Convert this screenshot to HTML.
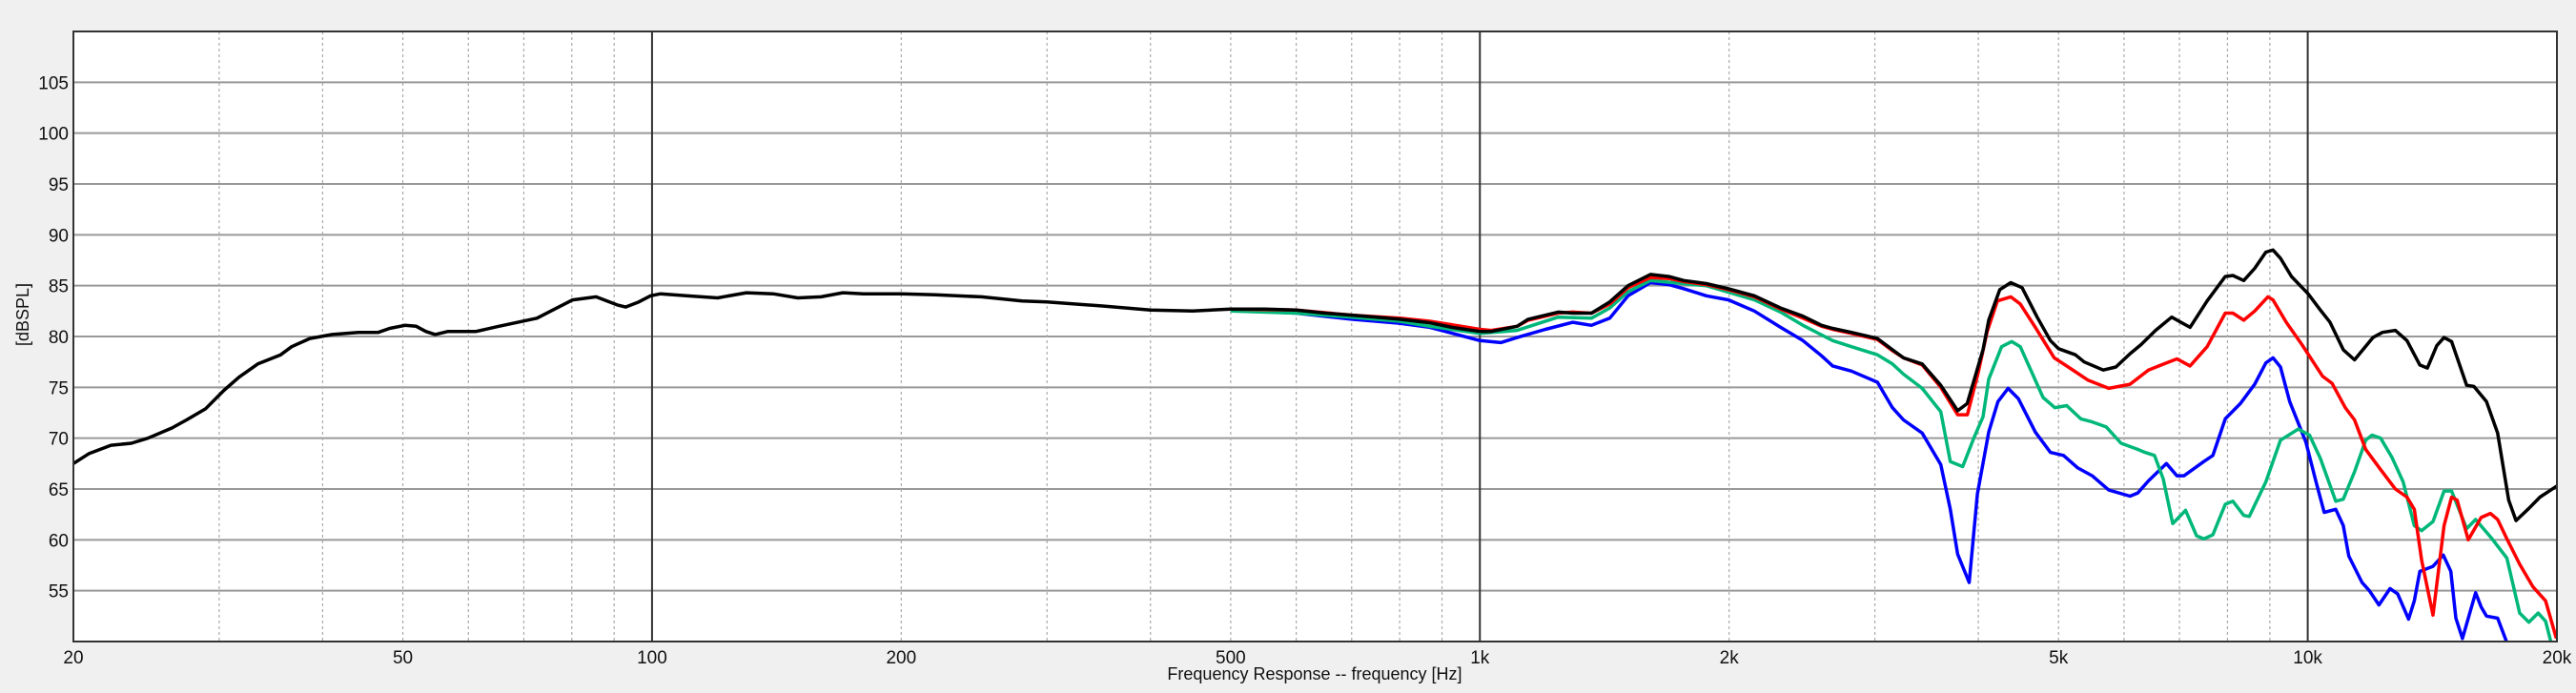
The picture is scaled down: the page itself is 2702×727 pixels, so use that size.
<!DOCTYPE html>
<html><head><meta charset="utf-8"><style>
html,body{margin:0;padding:0;background:#f0f0f0;}
svg{display:block;}
text{font-family:"Liberation Sans",sans-serif;fill:#111;}
</style></head><body>
<svg id="chart" width="2702" height="727" viewBox="0 0 2702 727" xmlns="http://www.w3.org/2000/svg">
<rect x="0" y="0" width="2702" height="727" fill="#f0f0f0"/>
<defs><clipPath id="plotclip"><rect x="77" y="33" width="2605" height="640"/></clipPath></defs>
<rect x="77" y="33" width="2605" height="640" fill="#fff"/>
<g id="grid"></g>
<g id="series" clip-path="url(#plotclip)"></g>
<rect x="77" y="33" width="2605" height="640" fill="none" stroke="#333" stroke-width="2"/>
<g id="labels"></g>
<text x="1379" y="713" font-size="18" text-anchor="middle">Frequency Response -- frequency [Hz]</text>
<text x="30" y="330" font-size="18" text-anchor="middle" transform="rotate(-90 30 330)">[dBSPL]</text>
</svg>
<script>
const yTicks = [55,60,65,70,75,80,85,90,95,100,105];
const xTickFreqs = [20,50,100,200,500,1000,2000,5000,10000,20000];
const xTickLabels = ["20","50","100","200","500","1k","2k","5k","10k","20k"];

const blackF = [20,20.9,22.2,23.5,24.6,26.3,27.4,28.9,30.4,31.7,33.4,35.6,36.7,38.6,41.1,44.2,46.7,48.2,50.3,51.9,53.3,54.7,56.7,61.3,65.3,72.6,76.3,80.2,85.6,90.8,92.9,96.4,99.6,102.4,110,120,130,140,150,160,170,180,200,220,250,280,300,350,400,450,500,550,600,650,700,750,800,870,925,1000,1032,1109,1144,1243,1295,1364,1435,1510,1607,1692,1764,1877,1997,2146,2308,2456,2587,2668,2811,3022,3150,3249,3422,3604,3777,3878,4053,4118,4246,4378,4518,4711,4888,5000,5240,5370,5662,5866,6100,6290,6550,6850,7210,7560,7950,8120,8370,8630,8900,9080,9270,9560,10010,10360,10640,11040,11390,11990,12310,12760,13180,13660,13950,14320,14610,14920,15560,15870,16440,16960,17490,17850,18500,19080,20000];
const blackDb = [67.5,68.5,69.3,69.5,70.0,71.0,71.8,72.9,74.7,76.0,77.3,78.2,79.0,79.8,80.2,80.4,80.4,80.8,81.1,81.0,80.5,80.2,80.5,80.5,81.0,81.8,82.7,83.6,83.9,83.1,82.9,83.4,84.0,84.2,84.0,83.8,84.3,84.2,83.8,83.9,84.3,84.2,84.2,84.1,83.9,83.5,83.4,83.0,82.6,82.5,82.7,82.7,82.6,82.3,82.1,81.9,81.7,81.35,80.9,80.5,80.5,81.0,81.7,82.4,82.3,82.3,83.4,85.0,86.1,85.9,85.5,85.2,84.7,84.0,82.8,82.0,81.1,80.8,80.4,79.8,78.7,77.9,77.3,75.2,72.7,73.4,78.7,81.6,84.6,85.3,84.8,81.9,79.6,78.8,78.2,77.5,76.7,77.0,78.3,79.2,80.6,81.9,80.9,83.5,85.9,86.0,85.5,86.7,88.3,88.5,87.7,85.9,84.2,82.6,81.4,78.7,77.7,79.9,80.4,80.6,79.6,77.2,76.9,79.1,79.9,79.5,75.2,75.1,73.6,70.5,63.9,61.9,63.1,64.2,65.3];

const redF = [500,600,700,800,870,1000,1032,1109,1144,1243,1295,1364,1435,1510,1607,1692,1764,1877,1997,2146,2308,2456,2587,2668,2811,3022,3150,3249,3422,3604,3777,3880,4000,4100,4218,4378,4495,4688,4940,5160,5430,5750,6100,6420,6750,6950,7210,7560,7950,8120,8370,8630,8950,9080,9420,9840,10420,10700,11100,11390,11750,12250,12760,13180,13450,13730,14170,14610,14920,15150,15630,16200,16620,16960,17400,18030,18700,19380,19970];
const redDb = [82.7,82.6,82.1,81.8,81.5,80.7,80.6,81.0,81.6,82.3,82.4,82.3,83.2,84.8,85.8,85.7,85.4,85.1,84.6,83.9,82.7,81.8,81.0,80.7,80.3,79.7,78.6,77.9,77.2,75.0,72.3,72.3,76.5,80.5,83.5,83.9,83.2,80.9,77.9,76.9,75.7,74.9,75.3,76.7,77.4,77.8,77.1,79.0,82.3,82.3,81.6,82.5,83.9,83.6,81.4,79.2,76.1,75.4,73.0,71.8,68.9,66.9,65.0,64.2,63.0,58.0,52.6,61.4,64.2,63.9,60.0,62.2,62.6,62.0,60.1,57.6,55.4,54.0,50.3];

const greenF = [500,600,700,800,870,1000,1109,1243,1364,1435,1510,1607,1877,2146,2308,2456,2668,2811,3022,3150,3249,3422,3604,3700,3830,3950,4053,4118,4268,4390,4495,4790,4950,5115,5320,5490,5710,5950,6230,6360,6530,6690,6870,7120,7340,7490,7680,7950,8120,8370,8500,8900,9270,9740,10050,10360,10810,11040,11390,11750,11960,12250,12640,13040,13450,13730,14170,14610,14920,15560,15950,16700,17400,18030,18500,18980,19380,19690];
const greenDb = [82.5,82.3,81.9,81.5,81.0,80.3,80.6,81.9,81.8,82.8,84.4,85.5,85.0,83.6,82.4,81.1,79.6,79.0,78.2,77.3,76.3,74.9,72.6,67.7,67.2,70.0,72.1,75.8,79.0,79.5,79.0,74.0,73.0,73.2,71.9,71.6,71.1,69.5,68.9,68.6,68.3,66.0,61.6,62.9,60.4,60.1,60.5,63.5,63.8,62.4,62.3,65.7,69.8,70.9,70.3,68.0,63.8,64.0,66.7,69.8,70.3,70.0,68.1,65.7,61.4,60.9,61.8,64.8,64.8,61.1,62.0,60.1,58.2,52.8,51.9,52.8,52.0,49.8];

const blueF = [500,600,700,800,870,1000,1060,1109,1200,1295,1364,1435,1510,1607,1692,1764,1877,1997,2146,2308,2456,2587,2668,2811,3022,3150,3249,3422,3604,3700,3777,3900,3990,4118,4225,4345,4470,4688,4888,5070,5270,5490,5750,6100,6230,6420,6750,6950,7090,7490,7680,7950,8290,8630,8900,9080,9270,9510,9950,10250,10470,10810,11040,11210,11630,11870,12190,12570,12840,13240,13450,13660,14170,14580,14890,15100,15380,15950,16200,16440,16960,17400];
const blueDb = [82.6,82.3,81.7,81.3,80.9,79.6,79.4,79.9,80.7,81.4,81.1,81.8,84.0,85.3,85.1,84.7,84.0,83.6,82.5,80.9,79.6,78.1,77.1,76.6,75.5,73.0,71.8,70.5,67.4,63.0,58.6,55.8,64.5,70.6,73.6,74.9,73.9,70.6,68.6,68.3,67.1,66.3,64.9,64.3,64.6,65.8,67.5,66.3,66.3,67.7,68.3,71.9,73.4,75.3,77.4,77.9,77.0,73.6,69.6,65.5,62.7,63.0,61.4,58.4,55.8,55.0,53.6,55.2,54.7,52.2,54.0,56.9,57.4,58.5,56.9,52.3,50.3,54.8,53.4,52.5,52.3,49.9];

const X0=77, X1=2682, Y0=33, Y1=673, FMIN=20, FMAX=20000, DBMIN=50, DBMAX=110;
function xs(f){return X0+(X1-X0)*Math.log10(f/FMIN)/Math.log10(FMAX/FMIN);}
function ys(v){return Y1-(Y1-Y0)*(v-DBMIN)/(DBMAX-DBMIN);}
const NS="http://www.w3.org/2000/svg";
const grid=document.getElementById('grid'), labels=document.getElementById('labels'), series=document.getElementById('series');

yTicks.forEach(v=>{
  const l=document.createElementNS(NS,'line');
  l.setAttribute('x1',X0);l.setAttribute('x2',X1);l.setAttribute('y1',ys(v));l.setAttribute('y2',ys(v));
  l.setAttribute('stroke','#999');l.setAttribute('stroke-width','2');
  
  
  grid.appendChild(l);
  const t=document.createElementNS(NS,'text');
  t.setAttribute('x',X0-5);t.setAttribute('y',ys(v)+7);t.setAttribute('font-size','19');t.setAttribute('text-anchor','end');
  t.textContent=v;
  
  
  labels.appendChild(t);
});
for(let dec=10;dec<=10000;dec*=10){
  for(let m=1;m<10;m++){
    const f=dec*m; if(f<=FMIN||f>=FMAX) continue;
    const l=document.createElementNS(NS,'line');
    const x=xs(f);
    l.setAttribute('x1',x);l.setAttribute('x2',x);l.setAttribute('y1',Y0);l.setAttribute('y2',Y1);
    if(m===1){l.setAttribute('stroke','#333');l.setAttribute('stroke-width','2');}
    else{l.setAttribute('stroke','#aaa');l.setAttribute('stroke-width','1.2');l.setAttribute('stroke-dasharray','3,3');}
    
    
    grid.appendChild(l);
  }
}
xTickFreqs.forEach((f,i)=>{
  const t=document.createElementNS(NS,'text');
  t.setAttribute('x',xs(f));t.setAttribute('y',Y1+23);t.setAttribute('font-size','19');t.setAttribute('text-anchor','middle');
  t.textContent=xTickLabels[i];
  
  
  labels.appendChild(t);
});
function drawSeries(F,D,color,name){
  const p=document.createElementNS(NS,'polyline');
  p.setAttribute('points',F.map((f,i)=>xs(f).toFixed(1)+','+ys(D[i]).toFixed(1)).join(' '));
  p.setAttribute('fill','none');p.setAttribute('stroke',color);p.setAttribute('stroke-width','3.5');p.setAttribute('stroke-linejoin','round');
  
  
  series.appendChild(p);
}
drawSeries(blueF,blueDb,'#0000ff','series-blue');
drawSeries(greenF,greenDb,'#00b77a','series-green');
drawSeries(redF,redDb,'#ff0000','series-red');
drawSeries(blackF,blackDb,'#000000','series-black');
</script>
</body></html>
